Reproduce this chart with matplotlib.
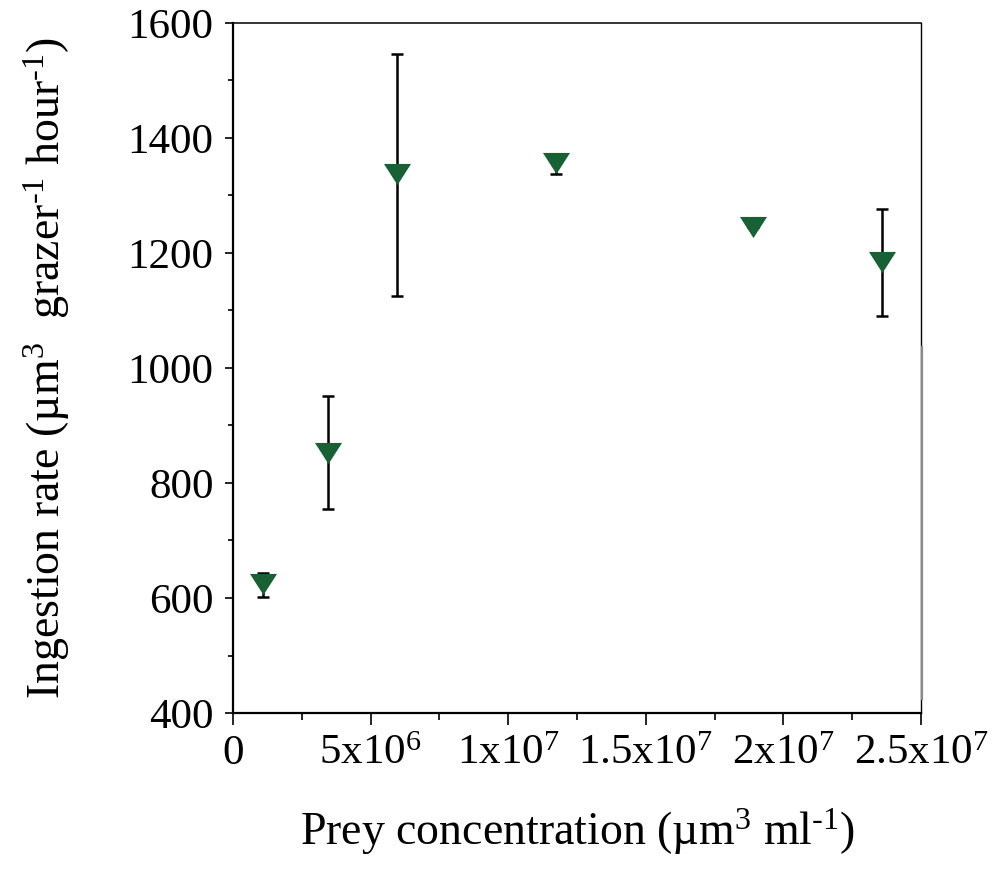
import matplotlib.pyplot as plt
from matplotlib.ticker import MultipleLocator, FixedLocator

plt.rcParams['font.family'] = ['Liberation Serif', 'DejaVu Serif']
plt.rcParams['mathtext.fontset'] = 'custom'
plt.rcParams['mathtext.rm'] = 'Liberation Serif'
plt.rcParams['mathtext.it'] = 'Liberation Serif:italic'

# prey concentration (um3 ml-1) and ingestion rate
prey_conc = [1.09e6, 3.44e6, 5.95e6, 11.73e6, 18.9e6, 23.6e6]
ingestion = [624, 853, 1337, 1357, 1245, 1184]
err_low = [22, 99, 211, 20, 0, 94]
err_high = [20, 98, 209, 15, 0, 92]

xtick_vals = [0, 5e6, 1e7, 1.5e7, 2e7, 2.5e7]
xtick_labels = ['0', '5x10$^{6}$', '1x10$^{7}$', '1.5x10$^{7}$', '2x10$^{7}$', '2.5x10$^{7}$']
ytick_vals = [400, 600, 800, 1000, 1200, 1400, 1600]

GREEN = '#176135'
HY = '\u2010'

fig = plt.figure(figsize=(10, 8.71), dpi=100)
ax = fig.add_axes([0.233, 0.1814, 0.688, 0.7922])

ax.errorbar(prey_conc, ingestion, yerr=[err_low, err_high], fmt='none',
            ecolor='black', elinewidth=1.8, capsize=4.5, capthick=1.8, zorder=2)
tri = [(-1, 0.78), (1, 0.78), (0, -0.78)]
ax.plot(prey_conc, ingestion, linestyle='none', marker=tri, markersize=19.5,
        color=GREEN, markeredgewidth=0, zorder=3)

ax.set_xlim(0, 2.5e7)
ax.set_ylim(400, 1600)
ax.xaxis.set_major_locator(FixedLocator(xtick_vals))
ax.set_xticklabels(xtick_labels)
ax.xaxis.set_minor_locator(MultipleLocator(2.5e6))
ax.yaxis.set_major_locator(FixedLocator(ytick_vals))
ax.yaxis.set_minor_locator(MultipleLocator(100))

ax.tick_params(axis='both', which='both', direction='out', width=1.2, labelsize=31)
ax.tick_params(axis='x', which='major', length=8.5, pad=7)
ax.tick_params(axis='x', which='minor', length=5)
ax.tick_params(axis='y', which='major', length=6, pad=8)
ax.tick_params(axis='y', which='minor', length=3.5)
ax.tick_params(top=False, right=False, which='both')

ax.spines['left'].set_linewidth(1.6)
ax.spines['bottom'].set_linewidth(1.6)
ax.spines['top'].set_linewidth(1.1)
ax.spines['right'].set_linewidth(1.0)
# grey segment on the right edge seen in the original
ax.plot([1.0015, 1.0015], [0.02, 0.53], transform=ax.transAxes, color='#8a8a8a',
        linewidth=1.6, clip_on=False, zorder=4)

ax.set_xlabel('Prey concentration (µm$^{3}$ ml$^{' + HY + '1}$)', fontsize=33, labelpad=24)
ax.set_ylabel('Ingestion rate (µm$^{3}$  grazer$^{' + HY + '1}$ hour$^{' + HY + '1}$)',
              fontsize=33, labelpad=40)

fig.savefig('out.png', dpi=100)
